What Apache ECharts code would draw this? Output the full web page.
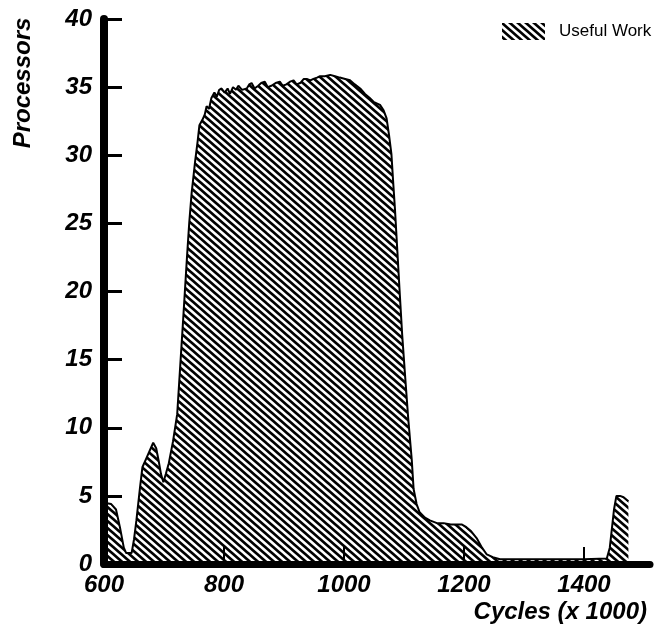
<!DOCTYPE html>
<html>
<head>
<meta charset="utf-8">
<script src="https://cdn.jsdelivr.net/npm/echarts@6/dist/echarts.min.js"></script>
<style>
    html, body { margin: 0; padding: 0; background: #fff; }
    #main { width: 657px; height: 634px; }
</style>
</head>
<body>
<div id="main"></div>
<script>
    // values
    const cycles = [600, 612, 620, 627, 633, 637, 646, 650, 654, 660, 664, 670, 676, 682, 687, 691, 695, 699, 703, 708,
        715, 722, 727, 732, 738, 742, 746, 752, 756, 759, 764, 768, 771, 775, 779, 784, 788, 792, 796, 801,
        806, 810, 815, 820, 824, 830, 838, 842, 846, 851, 857, 862, 868, 873, 879, 886, 893, 898, 904, 910,
        916, 921, 927, 933, 938, 944, 949, 955, 960, 968, 977, 985, 993, 1002, 1010, 1018, 1027, 1035, 1043, 1050,
        1060, 1066, 1071, 1075, 1079, 1082, 1085, 1089, 1093, 1097, 1102, 1107, 1113, 1116, 1121, 1126, 1135, 1143, 1155, 1166,
        1178, 1188, 1196, 1204, 1212, 1221, 1230, 1238, 1248, 1260, 1300, 1350, 1400, 1438, 1443, 1447, 1450, 1454, 1460, 1466, 1474];
    const processors = [4.5, 4.4, 4.0, 2.6, 1.2, 0.8, 0.8, 1.8, 3.2, 5.6, 7.1, 7.7, 8.3, 8.9, 8.5, 7.6, 6.6, 6.0, 6.6, 7.4,
        9.0, 11.0, 14.5, 18.0, 22.3, 25.0, 27.2, 29.6, 31.0, 32.2, 32.6, 33.0, 33.6, 33.4, 34.2, 34.6, 34.3, 34.8, 34.9, 34.6,
        34.9, 34.5, 35.0, 34.8, 35.1, 34.8, 34.9, 35.2, 35.3, 34.9, 35.1, 35.3, 35.4, 35.0, 35.1, 35.3, 35.4, 35.1, 35.2, 35.4,
        35.5, 35.2, 35.3, 35.6, 35.6, 35.5, 35.6, 35.7, 35.8, 35.8, 35.9, 35.8, 35.7, 35.6, 35.5, 35.2, 34.9, 34.5, 34.2, 33.9,
        33.7, 33.3, 32.7, 31.5, 30.1, 28.0, 26.0, 22.9, 19.8, 16.8, 13.7, 10.7, 7.6, 5.5, 4.4, 3.8, 3.4, 3.2, 3.0, 3.0,
        2.9, 2.9, 2.9, 2.7, 2.4, 1.9, 1.2, 0.7, 0.5, 0.35, 0.35, 0.35, 0.35, 0.4, 1.2, 2.8, 4.0, 5.0, 5.0, 4.9, 4.6];
    const seriesName = 'Useful Work';

    const font = 'Liberation Sans';

    // hatch tile: black diagonal stripes going down to the right
    function makeHatch() {
        const w = 8, h = 7;
        const c = document.createElement('canvas');
        c.width = w;
        c.height = h;
        const ctx = c.getContext('2d');
        ctx.fillStyle = '#fff';
        ctx.fillRect(0, 0, w, h);
        ctx.strokeStyle = '#000';
        ctx.lineWidth = 2.7;
        for (let k = -1; k <= 1; k++) {
            ctx.beginPath();
            ctx.moveTo(-w, -h + k * h);
            ctx.lineTo(2 * w, 2 * h + k * h);
            ctx.stroke();
        }
        return c;
    }
    const hatch = { image: makeHatch(), repeat: 'repeat' };

    const chart = echarts.init(document.getElementById('main'));

    const option = {
        animation: false,
        backgroundColor: '#fff',
        grid: { left: 104, top: 19, right: 7, bottom: 70 },
        legend: {
            left: 497,
            top: 18,
            itemWidth: 43,
            itemHeight: 17,
            data: [{ name: seriesName, icon: 'rect', itemStyle: { color: hatch, borderWidth: 0 } }],
            textStyle: { fontFamily: font, fontSize: 17, color: '#000', padding: [0, 0, 0, 9] }
        },
        xAxis: {
            type: 'value',
            min: 600,
            max: 1510,
            interval: 200,
            z: 5,
            name: 'Cycles (x 1000)',
            nameLocation: 'end',
            nameGap: -3,
            nameTextStyle: {
                fontFamily: font, fontSize: 24, fontWeight: 'bold', fontStyle: 'italic', color: '#000',
                align: 'right', verticalAlign: 'top', padding: [36, 0, 0, 0]
            },
            splitLine: { show: false },
            axisLine: { onZero: false, lineStyle: { color: '#000', width: 7 } },
            axisTick: { inside: true, length: 17, lineStyle: { color: '#000', width: 2 } },
            axisLabel: {
                showMaxLabel: false,
                margin: 9,
                formatter: v => String(v),
                fontFamily: font, fontSize: 24, fontWeight: 'bold', fontStyle: 'italic', color: '#000'
            }
        },
        yAxis: {
            type: 'value',
            min: 0,
            max: 40,
            interval: 5,
            z: 5,
            splitLine: { show: false },
            axisLine: { show: true, lineStyle: { color: '#000', width: 8 } },
            axisTick: { show: true, inside: true, length: 18, lineStyle: { color: '#000', width: 3 } },
            axisLabel: {
                margin: 12,
                fontFamily: font, fontSize: 24, fontWeight: 'bold', fontStyle: 'italic', color: '#000'
            }
        },
        graphic: [{
            type: 'text',
            x: 23,
            y: 83,
            rotation: Math.PI / 2,
            style: {
                text: 'Processors',
                font: 'italic bold 24px "Liberation Sans"',
                fill: '#000',
                align: 'center',
                verticalAlign: 'middle'
            }
        }],
        series: [{
            name: seriesName,
            type: 'line',
            showSymbol: false,
            smooth: false,
            data: cycles.map((c, i) => [c, processors[i]]),
            itemStyle: { color: hatch },
            lineStyle: { color: '#000', width: 2 },
            areaStyle: { color: hatch, opacity: 1 },
            z: 1
        }]
    };

    chart.setOption(option);
</script>
</body>
</html>
